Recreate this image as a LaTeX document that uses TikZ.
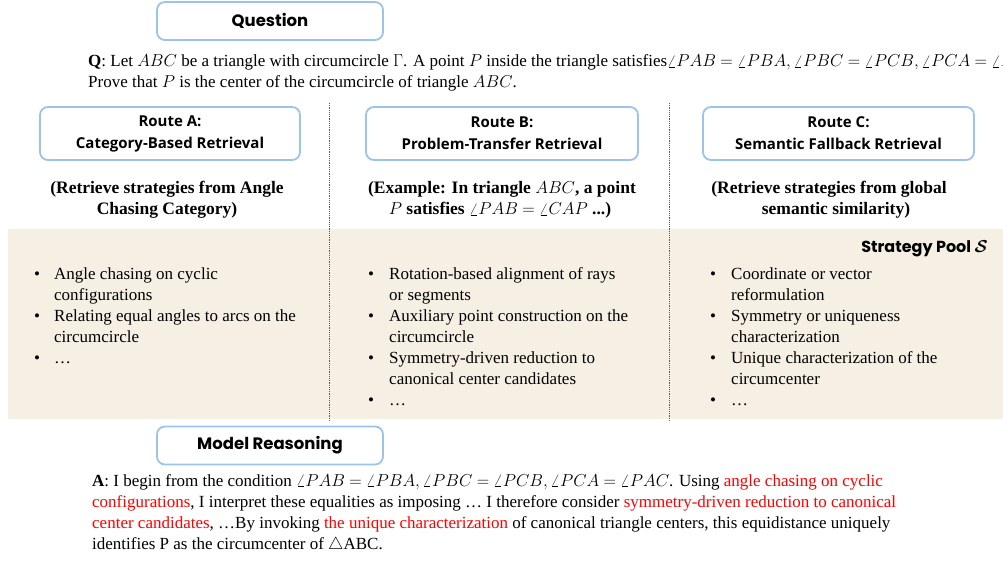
\documentclass[tikz,border=0pt]{standalone}
\usepackage{fontspec}
\setmainfont{Liberation Serif}
\newfontfamily\popfont{Poppins}
\newfontfamily\routefont{Open Sans}
\definecolor{boxblue}{RGB}{157,195,230}
\definecolor{beige}{RGB}{246,240,228}
\definecolor{redtxt}{RGB}{255,0,0}
\definecolor{sepgray}{RGB}{90,90,90}
\thickmuskip=4.5mu plus 2mu
\medmuskip=3mu plus 1mu
\tikzset{
  titlebox/.style={draw=boxblue, line width=1.8pt, rounded corners=8pt, fill=white, inner sep=0pt},
  bigtitle/.style={font=\popfont\bfseries\fontsize{16.5}{19}\selectfont},
  routetitle/.style={font=\routefont\bfseries\fontsize{15}{22}\selectfont, align=center},
  body/.style={anchor=base west, inner sep=0pt, font=\fontsize{17}{20.5}\selectfont},
  sub/.style={anchor=base, inner sep=0pt, font=\bfseries\fontsize{17.5}{21}\selectfont},
  bul/.style={anchor=base west, inner sep=0pt, font=\fontsize{17}{21}\selectfont},
  sep/.style={draw=sepgray, line width=0.8pt, dash pattern=on 1.2pt off 1pt}
}
\newcommand{\rt}[1]{\textcolor{redtxt}{#1}}
\begin{document}
\begin{tikzpicture}[x=1pt,y=-1pt]
\useasboundingbox (0,0) rectangle (1003,561);
\clip (0,0) rectangle (1003,561);
\fill[white] (0,0) rectangle (1003,561);
% band
\fill[beige] (8,229) rectangle (1003,419);
% separators
\coordinate (s1t) at (329,103); \coordinate (s1b) at (329,421);
\coordinate (s2t) at (669,103); \coordinate (s2b) at (669,421);
\draw[sep] (s1t) -- (s1b);
\draw[sep] (s2t) -- (s2b);
% question
\node[titlebox, minimum width=226pt, minimum height=38pt] (qbox) at (270,21) {};
\node[bigtitle] (qlab) at (qbox.center) {Question};
\node[body] (q1) at (88,67) {\textbf{Q}: Let $ABC$ be a triangle with circumcircle $\Gamma$. A point $P$ inside the triangle satisfies$\angle PAB = \angle PBA, \angle PBC = \angle PCB, \angle PCA = \angle PAC$};
\node[body] (q2) at (88,88) {Prove that $P$ is the center of the circumcircle of triangle $ABC$.};
% routes
\node[titlebox, minimum width=260pt, minimum height=53pt] (ra) at (170,133.5) {};
\node[routetitle] (ral) at (ra.center) {Route A:\\Category-Based Retrieval};
\node[titlebox, minimum width=272pt, minimum height=53pt] (rb) at (502,133.5) {};
\node[routetitle] (rbl) at (rb.center) {Route B:\\Problem-Transfer Retrieval};
\node[titlebox, minimum width=271pt, minimum height=53pt] (rc) at (838.5,133.5) {};
\node[routetitle] (rcl) at (rc.center) {Route C:\\Semantic Fallback Retrieval};
% sub headings
\node[sub] (sa1) at (167,194) {(Retrieve strategies from Angle};
\node[sub] (sa2) at (167,215) {Chasing Category)};
\node[sub] (sb1) at (502,194) {(Example: In triangle \mdseries$ABC$\bfseries, a point};
\node[sub] (sb2) at (500,215) {\mdseries$P$ \bfseries satisfies \mdseries$\angle PAB = \angle CAP$ \bfseries...)};
\node[sub] (sc1) at (829,194) {(Retrieve strategies from global};
\node[sub] (sc2) at (836,215) {semantic similarity)};
% strategy pool
\node[anchor=base east, inner sep=0pt, font=\popfont\bfseries\fontsize{16}{19}\selectfont] (pool) at (988,253) {Strategy Pool {\boldmath$\mathcal{S}$}};
% bullets A
\foreach \yy/\nm in {279/a1,321/a2,363/a3} {\node[bul] (b\nm) at (34,\yy) {•};}
\node[bul] (ta1) at (54,279) {Angle chasing on cyclic};
\node[bul] (ta1b) at (54,300) {configurations};
\node[bul] (ta2) at (54,321) {Relating equal angles to arcs on the};
\node[bul] (ta2b) at (54,342) {circumcircle};
\node[bul] (ta3) at (54,363) {…};
% bullets B
\foreach \yy/\nm in {279/b1,321/b2,363/b3,405/b4} {\node[bul] (b\nm) at (368,\yy) {•};}
\node[bul] (tb1) at (389,279) {Rotation-based alignment of rays};
\node[bul] (tb1b) at (389,300) {or segments};
\node[bul] (tb2) at (389,321) {Auxiliary point construction on the};
\node[bul] (tb2b) at (389,342) {circumcircle};
\node[bul] (tb3) at (389,363) {Symmetry-driven reduction to};
\node[bul] (tb3b) at (389,384) {canonical center candidates};
\node[bul] (tb4) at (389,405) {…};
% bullets C
\foreach \yy/\nm in {279/c1,321/c2,363/c3,405/c4} {\node[bul] (b\nm) at (710,\yy) {•};}
\node[bul] (tc1) at (731,279) {Coordinate or vector};
\node[bul] (tc1b) at (731,300) {reformulation};
\node[bul] (tc2) at (731,321) {Symmetry or uniqueness};
\node[bul] (tc2b) at (731,342) {characterization};
\node[bul] (tc3) at (731,363) {Unique characterization of the};
\node[bul] (tc3b) at (731,384) {circumcenter};
\node[bul] (tc4) at (731,405) {…};
% model reasoning
\node[titlebox, minimum width=226pt, minimum height=38pt] (mbox) at (270,445.5) {};
\node[bigtitle] (mlab) at (mbox.center) {Model Reasoning};
\node[body] (m1) at (92,486) {\textbf{A}: I begin from the condition $\angle PAB = \angle PBA, \angle PBC = \angle PCB, \angle PCA = \angle PAC$. Using \rt{angle chasing on cyclic}};
\node[body] (m2) at (92,507) {\rt{configurations}, I interpret these equalities as imposing … I therefore consider \rt{symmetry-driven reduction to canonical}};
\node[body] (m3) at (92,528) {\rt{center candidates}, …By invoking \rt{the unique characterization} of canonical triangle centers, this equidistance uniquely};
\node[body] (m4) at (92,549) {identifies P as the circumcenter of $\triangle$ABC.};
\end{tikzpicture}
\end{document}
